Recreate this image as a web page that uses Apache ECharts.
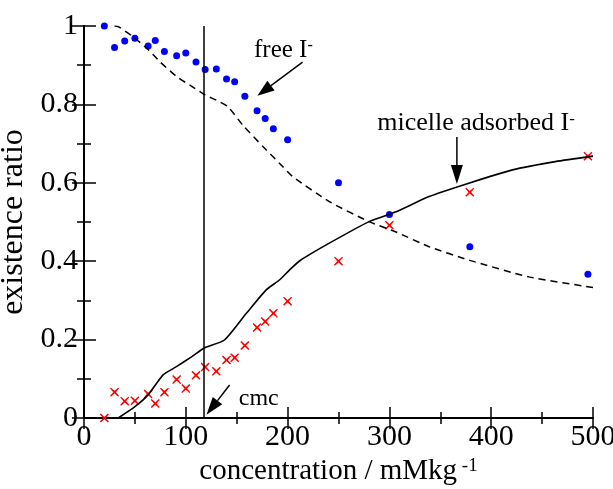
<!DOCTYPE html>
<html>
<head>
<meta charset="utf-8">
<script src="https://cdn.jsdelivr.net/npm/echarts@6/dist/echarts.min.js"></script>
<style>
  html, body { margin: 0; padding: 0; background: #fff; }
  #chart { width: 613px; height: 489px; }
</style>
</head>
<body>
<div id="chart"></div>
<script>
// measured points (concentration / mMkg-1)
const concentration = [20, 30, 40, 50, 63, 70, 79, 91, 100, 110, 119, 130, 140, 148, 158, 170, 178, 186, 200, 250, 300, 379, 495];
const freeRatio = [1.0, 0.945, 0.962, 0.969, 0.949, 0.963, 0.935, 0.924, 0.931, 0.908, 0.889, 0.890, 0.865, 0.858, 0.821, 0.784, 0.764, 0.738, 0.710, 0.600, 0.519, 0.437, 0.367];
const adsorbedRatio = [0.0, 0.066, 0.043, 0.044, 0.061, 0.037, 0.066, 0.098, 0.075, 0.109, 0.130, 0.119, 0.148, 0.154, 0.185, 0.231, 0.246, 0.267, 0.298, 0.400, 0.492, 0.576, 0.668];

// model curves
const freeCurveX = [30, 34, 48, 63, 74.5, 91, 104, 119, 133, 141.5, 156, 176, 192, 205, 241, 280, 306, 339, 378, 437, 500];
const freeCurveY = [1.0, 0.998, 0.973, 0.94, 0.909, 0.871, 0.849, 0.824, 0.807, 0.794, 0.747, 0.692, 0.65, 0.616, 0.552, 0.501, 0.475, 0.437, 0.403, 0.36, 0.333];
const adsorbedCurveX = [33.6, 50, 63, 77.7, 90.8, 105.6, 118.6, 138, 159.5, 179, 192, 202, 213, 241, 280, 306.5, 339, 378, 421, 463, 500];
const adsorbedCurveY = [0, 0.029, 0.059, 0.11, 0.131, 0.156, 0.179, 0.199, 0.267, 0.327, 0.352, 0.378, 0.403, 0.446, 0.501, 0.526, 0.565, 0.599, 0.633, 0.654, 0.668];

const cmc = 118;
const xTicks = [0, 100, 200, 300, 400, 500];
const yTicks = [0, 0.2, 0.4, 0.6, 0.8, 1];

const serif = "'Liberation Serif', 'Times New Roman', serif";
const crossPath = 'path://M1,0 L5,3.6 L9,0 L10,1 L6.4,5 L10,9 L9,10 L5,6.4 L1,10 L0,9 L3.6,5 L0,1 Z';

const zip = (xs, ys) => xs.map((x, i) => [x, ys[i]]);

const axisLine = { show: true, lineStyle: { color: '#000', width: 2 } };
const tickStyle = { color: '#000', width: 1.5 };

const option = {
  backgroundColor: '#fff',
  animation: false,
  grid: { left: 84, right: 20, top: 26, bottom: 71, outerBoundsMode: 'none', containLabel: false },
  xAxis: [
    {
      type: 'value', min: xTicks[0], max: xTicks[xTicks.length - 1], interval: 100,
      axisLine: axisLine,
      axisTick: { inside: true, length: 11, lineStyle: tickStyle },
      minorTick: { show: true, splitNumber: 2, length: 6, lineStyle: tickStyle },
      splitLine: { show: false },
      axisLabel: { color: '#000', fontFamily: serif, fontSize: 30, margin: 4 },
      name: '{t|concentration / mMkg}{s| -1}',
      nameLocation: 'middle', nameGap: 38,
      nameTextStyle: {
        color: '#000',
        rich: {
          t: { fontFamily: serif, fontSize: 29, color: '#000' },
          s: { fontFamily: serif, fontSize: 19, color: '#000', verticalAlign: 'top' }
        }
      }
    },
    {
      type: 'value', position: 'top', min: xTicks[0], max: xTicks[xTicks.length - 1], interval: 100,
      axisLine: axisLine,
      axisTick: { inside: true, length: 11, lineStyle: tickStyle },
      minorTick: { show: true, splitNumber: 2, length: 6, lineStyle: tickStyle },
      splitLine: { show: false },
      axisLabel: { show: false }
    }
  ],
  yAxis: [
    {
      type: 'value', min: yTicks[0], max: yTicks[yTicks.length - 1], interval: 0.2,
      axisLine: axisLine,
      axisTick: { inside: true, length: 12, lineStyle: tickStyle },
      minorTick: { show: true, splitNumber: 2, length: 7, lineStyle: tickStyle },
      splitLine: { show: false },
      axisLabel: { color: '#000', fontFamily: serif, fontSize: 30, margin: 6 },
      name: 'existence ratio',
      nameLocation: 'middle', nameGap: 36, nameRotate: 90,
      nameTextStyle: { color: '#000', fontFamily: serif, fontSize: 32 }
    },
    {
      type: 'value', position: 'right', min: yTicks[0], max: yTicks[yTicks.length - 1], interval: 0.2,
      axisLine: axisLine,
      axisTick: { inside: true, length: 12, lineStyle: tickStyle },
      minorTick: { show: true, splitNumber: 2, length: 7, lineStyle: tickStyle },
      splitLine: { show: false },
      axisLabel: { show: false }
    }
  ],
  series: [
    {
      name: 'free model', type: 'line', xAxisIndex: 0, yAxisIndex: 0,
      data: zip(freeCurveX, freeCurveY), showSymbol: false, smooth: 0.2,
      lineStyle: { color: '#000', width: 1.5, type: [7, 5] },
      markLine: {
        silent: true, symbol: 'none', label: { show: false },
        lineStyle: { color: '#000', width: 1.5, type: 'solid' },
        data: [{ xAxis: cmc }]
      }
    },
    {
      name: 'adsorbed model', type: 'line', xAxisIndex: 0, yAxisIndex: 0,
      data: zip(adsorbedCurveX, adsorbedCurveY), showSymbol: false, smooth: 0.2,
      lineStyle: { color: '#000', width: 1.6 }
    },
    {
      name: 'free I-', type: 'scatter', xAxisIndex: 0, yAxisIndex: 0, clip: false,
      data: zip(concentration, freeRatio), symbol: 'circle', symbolSize: 7,
      itemStyle: { color: '#0000ff', opacity: 1 }
    },
    {
      name: 'micelle adsorbed I-', type: 'scatter', xAxisIndex: 0, yAxisIndex: 0, clip: false,
      data: zip(concentration, adsorbedRatio), symbol: crossPath, symbolSize: 9,
      itemStyle: { color: '#ff0000', opacity: 1 }
    }
  ]
};

const chart = echarts.init(document.getElementById('chart'), null, { renderer: 'canvas' });
chart.setOption(option);

function px(p) {
  return chart.convertToPixel({ xAxisIndex: 0, yAxisIndex: 0 }, p);
}

function arrow(from, to, headLen, headW) {
  const a = px(from), b = px(to);
  const dx = b[0] - a[0], dy = b[1] - a[1];
  const L = Math.hypot(dx, dy), ux = dx / L, uy = dy / L;
  const bx = b[0] - ux * headLen, by = b[1] - uy * headLen;
  const nx = -uy, ny = ux;
  return [
    { type: 'line', shape: { x1: a[0], y1: a[1], x2: bx, y2: by }, style: { stroke: '#000', lineWidth: 1.5 } },
    { type: 'polygon', shape: { points: [[b[0], b[1]], [bx + nx * headW / 2, by + ny * headW / 2], [bx - nx * headW / 2, by - ny * headW / 2]] }, style: { fill: '#000' } }
  ];
}

function label(at, text, size) {
  const p = px(at);
  return {
    type: 'text', x: p[0], y: p[1],
    style: {
      text: text, align: 'left', verticalAlign: 'bottom',
      rich: {
        t: { fontFamily: serif, fontSize: size, fill: '#000' },
        s: { fontFamily: serif, fontSize: Math.round(size * 0.65), fill: '#000', verticalAlign: 'top' }
      }
    }
  };
}

chart.setOption({
  graphic: [
    label([167, 0.905], '{t|free I}{s|-}', 25),
    ...arrow([214.7, 0.908], [170.3, 0.822], 17, 12),
    label([288, 0.718], '{t|micelle adsorbed I}{s|-}', 26),
    ...arrow([366.3, 0.717], [366.3, 0.597], 19, 12),
    label([152, 0.018], '{t|cmc}', 24),
    ...arrow([143, 0.084], [120.3, 0.008], 18, 12)
  ]
});

window.addEventListener('resize', () => chart.resize());
</script>
</body>
</html>
